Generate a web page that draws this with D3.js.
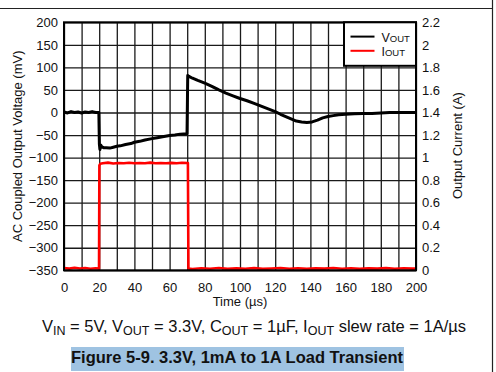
<!DOCTYPE html>
<html>
<head>
<meta charset="utf-8">
<script src="https://cdn.jsdelivr.net/npm/d3@7"></script>
<style>
  html, body { margin: 0; padding: 0; background: #fff; }
  svg { display: block; font-family: "Liberation Sans", Arial, sans-serif; }
</style>
</head>
<body>
<svg id="chart" width="496" height="372"></svg>
<script>
// ---- data ----
const timeTicks = [0, 20, 40, 60, 80, 100, 120, 140, 160, 180, 200];
const timeGrid = [0, 10, 20, 30, 40, 50, 60, 70, 80, 90, 100, 110, 120, 130, 140, 150, 160, 170, 180, 190, 200];
const voltTicks = [200, 150, 100, 50, 0, -50, -100, -150, -200, -250, -300, -350];
const currTicks = [2.2, 2, 1.8, 1.6, 1.4, 1.2, 1, 0.8, 0.6, 0.4, 0.2, 0];

const voutTime = [0, 2, 4, 6, 8, 10, 12, 14, 16, 18, 19.8, 20.1, 20.4, 20.8, 21.5, 22.5, 24, 26, 28, 30, 32, 35, 38, 40, 43, 46, 50, 53, 56, 60, 63, 66, 69.9,
  70.3, 71, 73, 76, 80, 84, 88, 92, 96, 100, 104, 108, 112, 116, 120, 123, 126, 129, 132, 135, 138, 141, 144, 147, 150, 153, 156, 160, 165, 170, 175, 180, 185, 190, 195, 200];
const voutMv = [1, -1, 2, 0, 1, -1, 1, 0, 2, 0, 0, -70, -82, -72, -76, -78, -78, -79, -77, -75, -74, -71, -69, -66, -64, -61, -58, -56, -54, -51, -50, -48, -47,
  82, 80, 76, 71, 65, 58, 50, 43, 37, 31, 26, 20, 14, 8, 2, -4, -9, -14, -19, -21, -22, -21, -17, -12, -9, -7, -5, -4, -3, -2, -2, -1, 0, 0, 0, 0];

const ioutTime = [0, 3, 6, 9, 12, 15, 18, 19.9, 20.1, 20.6, 22, 25, 28, 31, 34, 37, 40, 43, 46, 49, 52, 55, 58, 61, 64, 67, 70.4,
  70.7, 73, 78, 83, 88, 93, 98, 103, 108, 113, 118, 123, 128, 133, 138, 143, 148, 153, 158, 163, 168, 173, 178, 183, 188, 193, 198, 200];
const ioutA = [0.02, 0.015, 0.022, 0.016, 0.02, 0.014, 0.018, 0.015, 0.93, 0.945, 0.95, 0.955, 0.948, 0.952, 0.95, 0.954, 0.949, 0.952, 0.95, 0.955, 0.949, 0.952, 0.95, 0.953, 0.95, 0.954, 0.952,
  0.015, 0.012, 0.018, 0.014, 0.02, 0.013, 0.017, 0.014, 0.019, 0.013, 0.016, 0.02, 0.014, 0.018, 0.013, 0.017, 0.015, 0.02, 0.014, 0.018, 0.013, 0.017, 0.015, 0.019, 0.014, 0.018, 0.015, 0.016];

// ---- layout ----
const svg = d3.select("#chart");
const L = 64, R = 416, T = 22.3, B = 270.3;
const x = d3.scaleLinear().domain([0, 200]).range([L, R]);
const yV = d3.scaleLinear().domain([-350, 200]).range([B, T]);
const yI = d3.scaleLinear().domain([0, 2.2]).range([B, T]);

svg.append("rect").attr("width", 496).attr("height", 372).attr("fill", "#fff");

// page borders
svg.append("line").attr("x1", 0).attr("x2", 493).attr("y1", 8.5).attr("y2", 8.5).attr("stroke", "#222").attr("stroke-width", 1);
svg.append("line").attr("x1", 492.5).attr("x2", 492.5).attr("y1", 0).attr("y2", 372).attr("stroke", "#222").attr("stroke-width", 1.2);

// grid
const gx = svg.append("g").attr("transform", `translate(0,${B})`)
  .call(d3.axisBottom(x).tickValues(timeGrid).tickSize(-(B - T)).tickFormat(""));
const gy = svg.append("g").attr("transform", `translate(${L},0)`)
  .call(d3.axisLeft(yV).tickValues(voltTicks).tickSize(-(R - L)).tickFormat(""));
[gx, gy].forEach(g => {
  g.select(".domain").remove();
  g.selectAll(".tick line").attr("stroke", "#1a1a1a").attr("stroke-width", 1.3);
});

// tick labels
const ax = svg.append("g").attr("transform", `translate(0,${B})`)
  .call(d3.axisBottom(x).tickValues(timeTicks).tickSize(0).tickPadding(12).tickFormat(d3.format("d")));
const ayL = svg.append("g").attr("transform", `translate(${L},0)`)
  .call(d3.axisLeft(yV).tickValues(voltTicks).tickSize(0).tickPadding(6).tickFormat(d3.format("d")));
const ayR = svg.append("g").attr("transform", `translate(${R},0)`)
  .call(d3.axisRight(yI).tickValues(currTicks).tickSize(0).tickPadding(6).tickFormat(d => String(+d.toFixed(1))));
[ax, ayL, ayR].forEach(g => {
  g.select(".domain").remove();
  g.selectAll("text").attr("font-size", 13).attr("fill", "#111").attr("font-family", "Liberation Sans, Arial, sans-serif");
});

// traces
const lineV = d3.line().x((d, i) => x(voutTime[i])).y(d => yV(d));
const lineI = d3.line().x((d, i) => x(ioutTime[i])).y(d => yI(d));
svg.append("path").datum(ioutA).attr("d", lineI).attr("fill", "none")
  .attr("stroke", "#ff0000").attr("stroke-width", 2.6).attr("stroke-linejoin", "round");
svg.append("path").datum(voutMv).attr("d", lineV).attr("fill", "none")
  .attr("stroke", "#000").attr("stroke-width", 3).attr("stroke-linejoin", "round");

// frame
svg.append("rect").attr("x", L).attr("y", T).attr("width", R - L).attr("height", B - T)
  .attr("fill", "none").attr("stroke", "#000").attr("stroke-width", 2);

// legend
const lg = svg.append("g");
lg.append("rect").attr("x", 344).attr("y", T).attr("width", R - 344).attr("height", 43.5)
  .attr("fill", "#fff").attr("stroke", "#000").attr("stroke-width", 2);
const legendItems = [{ main: "V", sub: "OUT", color: "#000", y: 36.6 }, { main: "I", sub: "OUT", color: "#ff0000", y: 50.8 }];
legendItems.forEach(it => {
  lg.append("line").attr("x1", 350.5).attr("x2", 374.5).attr("y1", it.y).attr("y2", it.y)
    .attr("stroke", it.color).attr("stroke-width", 2);
  const t = lg.append("text").attr("x", 381.5).attr("y", it.y + 5.2).attr("font-size", 12.5).attr("fill", "#111");
  t.append("tspan").text(it.main);
  t.append("tspan").attr("font-size", 9.5).text(it.sub);
});

// axis titles
svg.append("text").attr("transform", "translate(21.5,242) rotate(-90)")
  .attr("font-size", 13).attr("fill", "#111").text("AC Coupled Output Voltage (mV)");
svg.append("text").attr("transform", "translate(461.5,199) rotate(-90)")
  .attr("font-size", 13).attr("fill", "#111").text("Output Current (A)");
svg.append("text").attr("x", 240).attr("y", 306).attr("text-anchor", "middle")
  .attr("font-size", 13).attr("fill", "#111").text("Time (µs)");

// caption
const cap = svg.append("text").attr("x", 254).attr("y", 331.5).attr("text-anchor", "middle")
  .attr("font-size", 16.5).attr("fill", "#111");
const parts = [["V", 0], ["IN", 1], [" = 5V, V", 0], ["OUT", 1], [" = 3.3V, C", 0], ["OUT", 1], [" = 1µF, I", 0], ["OUT", 1], [" slew rate = 1A/µs", 0]];
let prevSub = 0;
parts.forEach(([s, sub]) => {
  const ts = cap.append("tspan").text(s);
  if (sub) ts.attr("font-size", 12.5);
  const dy = (sub ? 3.5 : 0) - (prevSub ? 3.5 : 0);
  if (dy) ts.attr("dy", dy);
  prevSub = sub;
});

// figure title with highlight
svg.append("rect").attr("x", 71).attr("y", 347).attr("width", 333).attr("height", 24).attr("fill", "#9fc3e2");
svg.append("text").attr("x", 237).attr("y", 363).attr("text-anchor", "middle")
  .attr("font-size", 16.5).attr("font-weight", "bold").attr("fill", "#111")
  .text("Figure 5-9. 3.3V, 1mA to 1A Load Transient");
</script>
</body>
</html>
